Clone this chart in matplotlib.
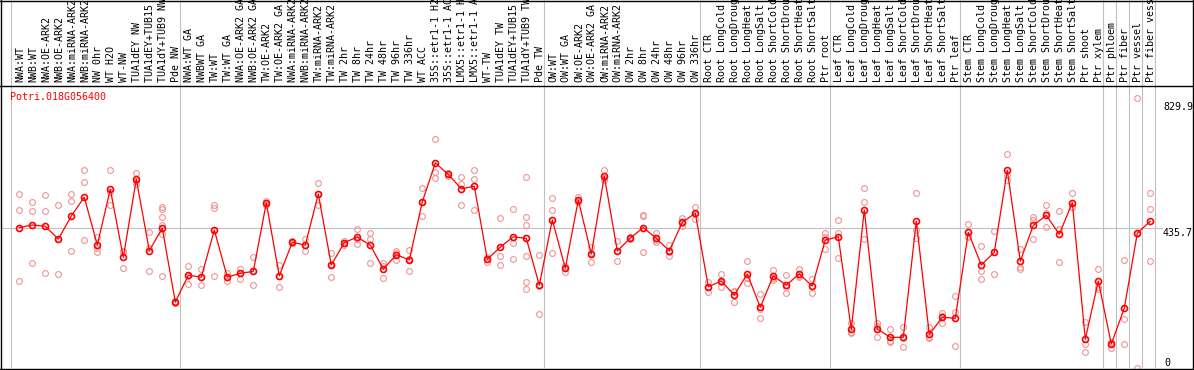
import matplotlib
matplotlib.use("Agg")
import matplotlib.pyplot as plt
from matplotlib.lines import Line2D

title = "Potri.018G056400"

categories = [
    "NWA:WT", "NWB:WT", "NWA:OE-ARK2", "NWB:OE-ARK2", "NWA:miRNA-ARK2", "NWB:miRNA-ARK2",
    "NW 0hr", "WT H2O", "WT-NW", "TUA1dEY NW", "TUA1dEY+TUB15 NW", "TUA1dY+TUB9 NW", "Pde NW",
    "NWA:WT GA", "NWBWT GA", "TW:WT", "TW:WT GA", "NWA:OE-ARK2 GA", "NWB:OE-ARK2 GA",
    "TW:OE-ARK2", "TW:OE-ARK2 GA", "NWA:miRNA-ARK2 GA", "NWB:miRNA-ARK2 GA", "TW:miRNA-ARK2",
    "TW:miRNA-ARK2 GA", "TW 2hr", "TW 8hr", "TW 24hr", "TW 48hr", "TW 96hr", "TW 336hr",
    "WT ACC", "35S::etr1-1 H2O", "35S::etr1-1 ACC", "LMX5::etr1-1 H2O", "LMX5::etr1-1 ACC",
    "WT-TW", "TUA1dEY TW", "TUA1dEY+TUB15 TW", "TUA1dY+TUB9 TW", "Pde TW",
    "OW:WT", "OW:WT GA", "OW:OE-ARK2", "OW:OE-ARK2 GA", "OW:miRNA-ARK2", "OW:miRNA-ARK2 GA",
    "OW 2hr", "OW 8hr", "OW 24hr", "OW 48hr", "OW 96hr", "OW 336hr",
    "Root CTR", "Root LongCold", "Root LongDrought", "Root LongHeat", "Root LongSalt",
    "Root ShortCold", "Root ShortDrought", "Root ShortHeat", "Root ShortSalt", "Ptr root",
    "Leaf CTR", "Leaf LongCold", "Leaf LongDrought", "Leaf LongHeat", "Leaf LongSalt",
    "Leaf ShortCold", "Leaf ShortDrought", "Leaf ShortHeat", "Leaf ShortSalt", "Ptr leaf",
    "Stem CTR", "Stem LongCold", "Stem LongDrought", "Stem LongHeat", "Stem LongSalt",
    "Stem ShortCold", "Stem ShortDrought", "Stem ShortHeat", "Stem ShortSalt", "Ptr shoot",
    "Ptr xylem", "Ptr phloem", "Ptr fiber", "Ptr vessel", "Ptr fiber vessel",
]

means = [
    438, 446, 442, 402, 474, 533, 383, 558, 345, 589, 366, 436, 205,
    289, 283, 430, 283, 295, 301, 515, 287, 392, 383, 543, 321, 391, 408, 383, 308, 353, 337,
    518, 640, 604, 559, 567, 339, 377, 409, 404, 258,
    462, 311, 524, 355, 599, 365, 405, 438, 404, 365, 454, 483,
    253, 271, 227, 293, 189, 287, 258, 293, 255, 399,
    409, 120, 493, 121, 95, 95, 458, 104, 158, 154,
    423, 321, 361, 617, 333, 445, 476, 417, 516, 89, 271,
    74, 186, 420, 458,
]

replicates = [
    [542, 492, 271], [518, 490, 327], [539, 490, 295], [508, 293, 402], [542, 520, 364],
    [617, 579, 398], [409, 373, 361], [617, 548, 508], [364, 311, 362], [608, 574, 583],
    [423, 301, 373], [501, 495, 471, 446, 418, 287], [210, 201, 205],
    [318, 261, 288], [308, 258, 283], [508, 500, 287], [297, 271, 284], [308, 278, 297],
    [345, 258, 301], [521, 515, 508], [321, 252, 287], [396, 390, 390], [402, 364, 383],
    [576, 508, 543], [358, 283, 323], [396, 385, 391], [433, 401, 388], [420, 401, 327],
    [328, 279, 318], [366, 337, 357], [368, 301, 341],
    [562, 474, 518], [715, 613, 592], [608, 604, 600], [595, 573, 508], [618, 589, 493],
    [347, 330, 339], [468, 349, 320], [496, 390, 339], [595, 471, 447, 348, 268, 247],
    [352, 168, 255],
    [531, 493, 358], [319, 300, 313], [533, 519, 521], [378, 329, 358], [618, 587, 593],
    [397, 333, 365], [408, 402, 405], [476, 474, 361], [420, 394, 399], [383, 350, 362],
    [469, 442, 452], [502, 466, 479],
    [269, 238, 253], [293, 251, 269], [238, 204, 240], [333, 266, 280], [229, 154, 183],
    [305, 279, 275], [289, 233, 251], [309, 287, 283], [278, 233, 255], [420, 409, 370],
    [462, 420, 342], [139, 113, 108], [562, 518, 402], [139, 95, 129], [120, 81, 83],
    [126, 66, 93], [545, 430, 404], [126, 92, 95], [172, 141, 163], [224, 175, 68],
    [448, 409, 412], [380, 303, 276], [427, 293, 362], [667, 602, 587], [372, 316, 309],
    [471, 402, 462], [508, 439, 483], [489, 329, 433], [545, 501, 501], [144, 74, 49],
    [308, 253, 245],
    [81, 63, 78], [337, 151, 74], [842, 0, 418], [545, 495, 333],
]

group_starts = [0, 13, 41, 53, 63, 73, 84, 85, 86, 87, 88]
y_labels = [829.9, 435.7, 0]
grid_value = 435.7

W, H = 1194, 370
fig = plt.figure(figsize=(W / 100, H / 100), dpi=100)

def fx(px):
    return px / W

def fy(py):
    return 1 - py / H

FONT = "DejaVu Sans Mono"
FS = 7.2
GRAY = "#C0C0C0"
RED = "#FF0000"
PINK = "#F09494"

x_lo = (1 - 19.3) / 13
x_hi = (1193 - 19.3) / 13
scale = 0.32  # px per unit
y_lo = (367.7 - 368) / scale
y_hi = (367.7 - 85) / scale

ax = fig.add_axes([fx(1), fy(368), fx(1192), (368 - 85) / H])
ax.set_xlim(x_lo, x_hi)
ax.set_ylim(y_lo, y_hi)
ax.axis("off")

hdr = fig.add_axes([fx(1), fy(85), fx(1192), 85 / H])
hdr.set_xlim(x_lo, x_hi)
hdr.set_ylim(85, 0)
hdr.axis("off")

# separators
for g in group_starts:
    ax.axvline(g - 0.62, color=GRAY, lw=0.8, zorder=1)
    hdr.axvline(g - 0.62, color=GRAY, lw=0.8, zorder=1)

# horizontal grid
ax.plot([x_lo, (1162 - 19.3) / 13], [grid_value, grid_value], color=GRAY, lw=0.8, zorder=1)

# replicates
xs = list(range(len(categories)))
for i, reps in enumerate(replicates):
    ax.plot([i] * len(reps), reps, linestyle="none", marker="o", ms=4.2,
            mfc="none", mec=PINK, mew=0.8, zorder=2)

# mean line
ax.plot(xs, means, color=RED, lw=0.9, marker="o", ms=4.3, mfc="none",
        mec=RED, mew=1.2, zorder=3)

# header labels
for i, lab in enumerate(categories):
    hdr.text(i + 0.05, 82.5, lab, rotation=90, ha="center", va="bottom",
             fontsize=FS, family=FONT, color="black", clip_on=True)

# y labels
ax.text((1163 - 19.3) / 13, 829.9, "829.9", ha="left", va="top", fontsize=FS,
        family=FONT, color="black")
ax.text((1163 - 19.3) / 13, 435.7, "435.7", ha="left", va="top", fontsize=FS,
        family=FONT, color="black")
ax.text((1164 - 19.3) / 13, 0, "0", ha="left", va="bottom", fontsize=FS,
        family=FONT, color="black")

# title
fig.text(fx(10), fy(91.5), title, ha="left", va="top", fontsize=FS, family=FONT, color=RED)

# frame lines
def fline(x0, y0, x1, y1):
    fig.add_artist(Line2D([fx(x0), fx(x1)], [fy(y0), fy(y1)], color="black", lw=1.0,
                          transform=fig.transFigure))

fline(0, 0.5, W, 0.5)          # top
fline(0, 85.5, W, 85.5)        # header bottom
fline(0, 368.5, W, 368.5)      # bottom
fline(1.0, 0, 1.0, 370)        # left
fline(1193, 0, 1193, 370)      # right

fig.savefig("out.png", dpi=100)
